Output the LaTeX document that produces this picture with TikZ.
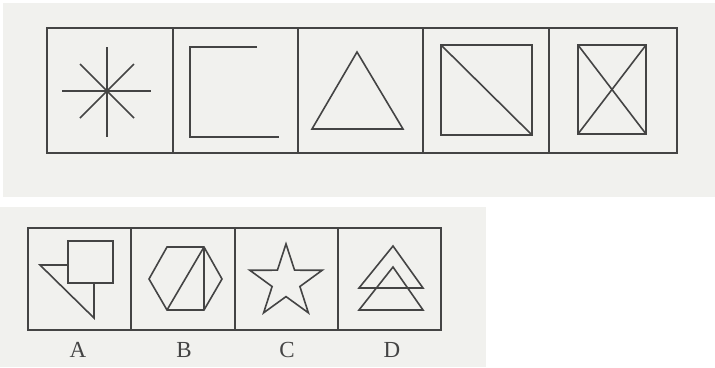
\documentclass[tikz,border=0pt]{standalone}
\usepackage{fontspec}
\setmainfont{Liberation Serif}
\definecolor{paper}{HTML}{F1F1EE}
\definecolor{ink}{HTML}{444444}
\begin{document}
\begin{tikzpicture}[x=1pt,y=-1pt,
  fig/.style={draw=ink,line width=1.6pt,line join=miter},
  frame/.style={draw=ink,line width=1.9pt},
  lbl/.style={font=\fontsize{23}{23}\selectfont,text=ink,inner sep=0pt}]
\useasboundingbox (0,0) rectangle (715,367);
\fill[white] (0,0) rectangle (715,367);
\fill[paper] (3,3) rectangle (715,197);
\fill[paper] (0,207) rectangle (486,367);
% top strip
\draw[frame] (47,28) rectangle (677,153);
\foreach \x in {173,298,423,549} \draw[frame] (\x,28) -- (\x,153);
% cell 1: asterisk
\draw[fig] (107,47) -- (107,137);
\draw[fig] (62,91) -- (151,91);
\draw[fig] (80,64) -- (134,118);
\draw[fig] (80,118) -- (134,64);
% cell 2: bracket
\draw[fig] (257,47) -- (190,47) -- (190,137) -- (279,137);
% cell 3: triangle
\draw[fig] (357,52) -- (403,129) -- (312,129) -- cycle;
% cell 4
\draw[fig] (441,45) rectangle (532,135);
\draw[fig] (441,45) -- (532,135);
% cell 5
\draw[fig] (578,45) rectangle (646,134);
\draw[fig] (578,45) -- (646,134);
\draw[fig] (578,134) -- (646,45);
% bottom strip
\draw[frame] (28,228) rectangle (441,330);
\foreach \x in {131,235,338} \draw[frame] (\x,228) -- (\x,330);
% A
\draw[fig] (40,265) -- (94,265) -- (94,318) -- cycle;
\draw[fig,fill=paper] (68,241) rectangle (113,283);
% B
\draw[fig] (167,247) -- (204,247) -- (222,279) -- (204,310) -- (167,310) -- (149,279) -- cycle;
\draw[fig] (204,247) -- (167,310);
\draw[fig] (204,247) -- (204,310);
% C: star
\begin{scope}[shift={(286,282)}]
\draw[fig] (270:38.1) -- (306:14.6) -- (342:38.1) -- (18:14.6) -- (54:38.1) -- (90:14.6)
  -- (126:38.1) -- (162:14.6) -- (198:38.1) -- (234:14.6) -- cycle;
\end{scope}
% D
\draw[fig] (393,246) -- (423,288) -- (359,288) -- cycle;
\draw[fig] (393,267) -- (423,310) -- (359,310) -- cycle;
% labels
\node[lbl] (la) at (78,350) {A};
\node[lbl] (lb) at (184,350) {B};
\node[lbl] (lc) at (287,350) {C};
\node[lbl] (ld) at (392,350) {D};
\end{tikzpicture}
\end{document}
